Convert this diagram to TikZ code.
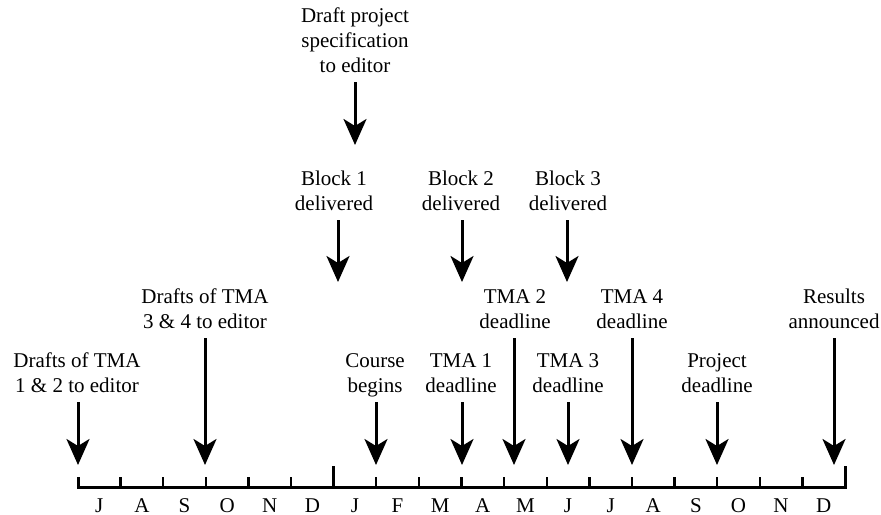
\documentclass[tikz,border=0pt]{standalone}
\usepackage{fontspec}
\setmainfont{Liberation Serif}
\usetikzlibrary{arrows.meta}

\tikzset{
  lbl/.style={align=center, anchor=south, inner xsep=0pt, inner ysep=4.5pt, text depth=0pt},
  evt/.style={line width=1.5pt, -{Stealth[length=13pt,width=11.5pt,inset=3.5pt]}},
  axis/.style={line width=1.5pt, line join=miter},
  tick/.style={line width=1.2pt}
}

\begin{document}
\begin{tikzpicture}[x=0.5pt, y=-0.5pt, font=\fontsize{10.5}{12.5}\selectfont]
  \useasboundingbox (0,0) rectangle (881,514);

  %% time axis
  \coordinate (axL) at (78,487);
  \coordinate (axM) at (333,487);
  \coordinate (axR) at (845,487);
  \draw[axis] (78,477) -- (axL) -- (axR) -- (845,466);
  \draw[axis] (axM) -- ++(0,-21);
  \foreach \k in {1,...,5,7,8,...,17}
    \draw[tick] (78+42.61*\k,487) -- ++(0,-10);
  \foreach \m [count=\i from 0] in {J,A,S,O,N,D,J,F,M,A,M,J,J,A,S,O,N,D}
    \node[anchor=base] (mon\i) at (99.3+42.61*\i,512) {\m};

  %% project specification
  \node[lbl] (draft) at (355,82) {Draft project\\specification\\to editor};
  \coordinate (draftEnd) at (355,145);
  \draw[evt] (draft.south -| draftEnd) -- (draftEnd);

  %% blocks
  \node[lbl] (blkA) at (334,220) {Block 1\\delivered};
  \node[lbl] (blkB) at (461,220) {Block 2\\delivered};
  \node[lbl] (blkC) at (568,220) {Block 3\\delivered};
  \coordinate (blkAEnd) at (338,282);
  \coordinate (blkBEnd) at (462,282);
  \coordinate (blkCEnd) at (567,282);
  \draw[evt] (blkA.south -| blkAEnd) -- (blkAEnd);
  \draw[evt] (blkB.south -| blkBEnd) -- (blkBEnd);
  \draw[evt] (blkC.south -| blkCEnd) -- (blkCEnd);

  %% TMA drafts
  \node[lbl] (drA) at (77,402) {Drafts of TMA\\1 \& 2 to editor};
  \node[lbl] (drB) at (205,338) {Drafts of TMA\\3 \& 4 to editor};
  \coordinate (drAEnd) at (78,465);
  \coordinate (drBEnd) at (205,465);
  \draw[evt] (drA.south -| drAEnd) -- (drAEnd);
  \draw[evt] (drB.south -| drBEnd) -- (drBEnd);

  %% course
  \node[lbl] (start) at (375,402) {Course\\begins};
  \coordinate (startEnd) at (376,465);
  \draw[evt] (start.south -| startEnd) -- (startEnd);

  %% TMA deadlines
  \node[lbl] (tmaA) at (461,402) {TMA 1\\deadline};
  \node[lbl] (tmaB) at (515,338) {TMA 2\\deadline};
  \node[lbl] (tmaC) at (568,402) {TMA 3\\deadline};
  \node[lbl] (tmaD) at (632,338) {TMA 4\\deadline};
  \coordinate (tmaAEnd) at (462,465);
  \coordinate (tmaBEnd) at (514,465);
  \coordinate (tmaCEnd) at (568,465);
  \coordinate (tmaDEnd) at (632,465);
  \draw[evt] (tmaA.south -| tmaAEnd) -- (tmaAEnd);
  \draw[evt] (tmaB.south -| tmaBEnd) -- (tmaBEnd);
  \draw[evt] (tmaC.south -| tmaCEnd) -- (tmaCEnd);
  \draw[evt] (tmaD.south -| tmaDEnd) -- (tmaDEnd);

  %% project / results
  \node[lbl] (proj) at (717,402) {Project\\deadline};
  \node[lbl] (res) at (834,338) {Results\\announced};
  \coordinate (projEnd) at (717,465);
  \coordinate (resEnd) at (834,465);
  \draw[evt] (proj.south -| projEnd) -- (projEnd);
  \draw[evt] (res.south -| resEnd) -- (resEnd);

\end{tikzpicture}
\end{document}
